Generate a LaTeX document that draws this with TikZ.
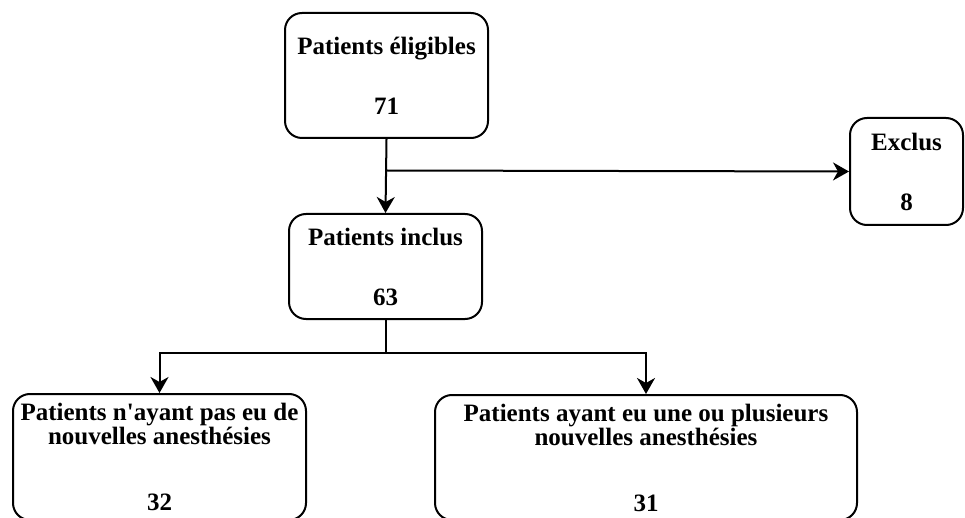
\documentclass[tikz,border=0pt]{standalone}
\usepackage{fontspec}
\setmainfont{Liberation Serif}
\usetikzlibrary{arrows.meta}
\lineskiplimit=-100pt

\begin{document}
\begin{tikzpicture}[x=1pt, y=-1pt]
   \tikzstyle{box}=[draw, line width=2pt, rounded corners=17pt, inner sep=2pt, align=center, font=\fontsize{25}{21}\selectfont\bfseries]
   \tikzstyle{flow}=[line width=2pt, -{Stealth[length=16pt, width=18pt, inset=5pt]}]
   \useasboundingbox (0,0) rectangle (965,518);

\node[box, minimum width=203, minimum height=125] (eligibles) at (386.5,75.5) {Patients éligibles\\[39pt]71};
\node[box, minimum width=113, minimum height=107] (exclus) at (906.5,171.5) {Exclus\\[39pt]8};
\node[box, minimum width=193, minimum height=105] (inclus) at (385.5,266.5) {Patients inclus\\[39pt]63};
\node[box, minimum width=293, minimum height=126] (sansanesth) at (159.5,457) {Patients n\textquotesingle ayant pas eu de\\[3pt]nouvelles anesthésies\\[45pt]32};
\node[box, minimum width=422, minimum height=125] (avecanesth) at (646,457.5) {Patients ayant eu une ou plusieurs\\[3pt]nouvelles anesthésies\\[45pt]31};

% eligibles -> inclus / exclus
\draw[flow] (eligibles.south) -- (inclus.north);
\coordinate (split) at (eligibles.south |- 0,170.5);
\draw[flow] (split) -- (exclus.west);

% inclus -> two groups
\draw[line width=2pt] (inclus.south) -- ++(0,33) coordinate (fork);
\draw[flow] (fork) -| (sansanesth.north);
\draw[flow] (fork) -| (avecanesth.north);

\end{tikzpicture}
\end{document}
